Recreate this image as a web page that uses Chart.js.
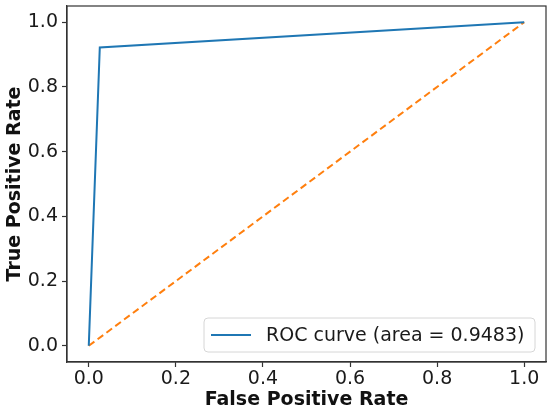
<!DOCTYPE html>
<html><head><meta charset="utf-8">
<script src="https://cdn.jsdelivr.net/npm/chart.js@4"></script>
<style>html,body{margin:0;padding:0;background:#fff}#w{width:550px;height:412px}</style>
</head><body><div id="w"><canvas id="c"></canvas></div>
<script>
const rocFpr = [0.0, 0.0253, 1.0];
const rocTpr = [0.0, 0.9219, 1.0];
const diagX = [0.0, 1.0];
const diagY = [0.0, 1.0];
const tickValues = [0.0, 0.2, 0.4, 0.6, 0.8, 1.0];
const rocLabel = 'ROC curve (area = 0.9483)';
const xTitle = 'False Positive Rate';
const yTitle = 'True Positive Rate';

const FONT = "'DejaVu Sans', sans-serif";
const FS = 19;
const toPts = (xs, ys) => xs.map((x, i) => ({x, y: ys[i]}));

const frame = {
  id: 'frame',
  afterDraw(chart) {
    const {ctx, chartArea: a} = chart;
    ctx.save();
    ctx.strokeStyle = '#333';
    ctx.lineWidth = 1.2;
    ctx.strokeRect(a.left, a.top, a.right - a.left, a.bottom - a.top);
    // legend
    const bx = 204, by = 318, bw = 331, bh = 34, r = 4;
    ctx.globalAlpha = 0.8;
    ctx.fillStyle = '#fff';
    ctx.beginPath();
    ctx.roundRect(bx, by, bw, bh, r);
    ctx.fill();
    ctx.globalAlpha = 1;
    ctx.strokeStyle = '#d6d6d6';
    ctx.lineWidth = 1;
    ctx.stroke();
    const cy = by + bh / 2;
    ctx.strokeStyle = '#1f77b4';
    ctx.lineWidth = 2;
    ctx.beginPath(); ctx.moveTo(211, cy); ctx.lineTo(251, cy); ctx.stroke();
    ctx.fillStyle = '#1a1a1a';
    ctx.font = FS + 'px ' + FONT;
    ctx.textBaseline = 'middle';
    ctx.fillText(chart.data.datasets[0].label, 266, cy + 1);
    ctx.restore();
  }
};

const axisCommon = (title) => ({
  type: 'linear', min: -0.05, max: 1.05,
  afterBuildTicks(s) { s.ticks = tickValues.map(v => ({value: v})); },
  ticks: { color: '#1a1a1a', font: {family: FONT, size: FS}, padding: 1,
           callback: v => Number(v).toFixed(1), autoSkip: false, maxRotation: 0 },
  grid: { display: true, drawOnChartArea: false, drawTicks: true, tickLength: 5, color: '#333', tickWidth: 1.2 },
  border: { display: true, color: '#333', width: 1.2 },
  title: { display: true, text: title, color: '#111', font: {family: FONT, size: FS, weight: 'bold'} }
});

const xAxis = axisCommon(xTitle);
xAxis.afterFit = s => { s.height = 50; s.paddingLeft = 0; s.paddingRight = 0; };
xAxis.title.padding = {top: 0, bottom: 1};
const yAxis = axisCommon(yTitle);
yAxis.ticks.padding = 4;
yAxis.afterFit = s => { s.width = 67; s.paddingTop = 0; s.paddingBottom = 0; };
yAxis.title.padding = {top: 3.5, bottom: 0};

new Chart(document.getElementById('c'), {
  type: 'scatter',
  data: { datasets: [
    { label: rocLabel, data: toPts(rocFpr, rocTpr), showLine: true, borderColor: '#1f77b4',
      borderWidth: 2, pointRadius: 0, fill: false, tension: 0 },
    { label: 'diag', data: toPts(diagX, diagY), showLine: true, borderColor: '#ff7f0e',
      borderWidth: 2, borderDash: [7, 4], pointRadius: 0, fill: false, tension: 0 }
  ]},
  options: {
    responsive: true, maintainAspectRatio: false, animation: false,
    layout: { padding: {left: 0, top: 6, right: 4, bottom: 0} },
    plugins: { legend: {display: false}, tooltip: {enabled: false} },
    scales: { x: xAxis, y: yAxis }
  },
  plugins: [frame]
});
</script></body></html>
